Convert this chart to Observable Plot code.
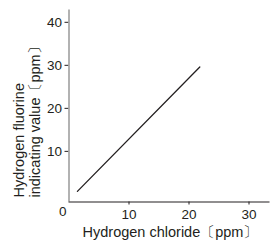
<!DOCTYPE html>
<html>
<head>
<meta charset="utf-8">
<script src="https://cdn.jsdelivr.net/npm/d3@7"></script>
<script src="https://cdn.jsdelivr.net/npm/@observablehq/plot@0.6"></script>
<style>
  html, body { margin: 0; padding: 0; background: #fff; }
  svg { display: block; }
</style>
</head>
<body>
<div id="chart"></div>
<script>
// Data
const hclPpm = [1.4, 21.8];          // Hydrogen chloride (ppm)
const hfPpm = [0.7, 29.6];           // Hydrogen fluorine indicating value (ppm)
const xTicks = [10, 20, 30];
const yTicks = [10, 20, 30, 40];
const xTitle = "Hydrogen chloride〔ppm〕";
const yTitle = "Hydrogen fluorine\nindicating value〔ppm〕";
const originLabel = "0";

const rows = hclPpm.map((x, i) => ({x, y: hfPpm[i]}));

const font = "'Liberation Sans', Arial, Helvetica, sans-serif";
const ink = "#231f20";

const chart = Plot.plot({
  width: 270,
  height: 246,
  marginLeft: 68.5,
  marginRight: 0.5,
  marginTop: 9.5,
  marginBottom: 44.5,
  style: {fontFamily: font, fontSize: "13.5px", color: ink, background: "#fff"},
  x: {domain: [0, 33.5], ticks: xTicks, tickSize: 3, tickPadding: 4, label: null},
  y: {domain: [-1.77, 42.86], ticks: yTicks, tickSize: 4, tickPadding: 3, label: null},
  marks: [
    Plot.ruleX([0], {stroke: "#999", strokeWidth: 1.5}),
    Plot.ruleY([-1.77], {stroke: ink, strokeWidth: 1.2}),
    Plot.line(rows, {x: "x", y: "y", stroke: ink, strokeWidth: 1.3}),
    Plot.text([originLabel], {text: d => d, frameAnchor: "bottom-left", dx: -10, dy: 14, fontSize: 13.5, fill: ink}),
    Plot.text([xTitle], {text: d => d, frameAnchor: "bottom", textAnchor: "middle", dx: 1, dy: 35, fontSize: 14.5, fill: ink}),
    Plot.text([yTitle], {text: d => d, frameAnchor: "bottom-left", rotate: -90, textAnchor: "start", lineAnchor: "middle", lineHeight: 1.05, dx: -42, dy: -4.5, fontSize: 14.5, fill: ink})
  ]
});
document.getElementById("chart").appendChild(chart);
</script>
</body>
</html>
